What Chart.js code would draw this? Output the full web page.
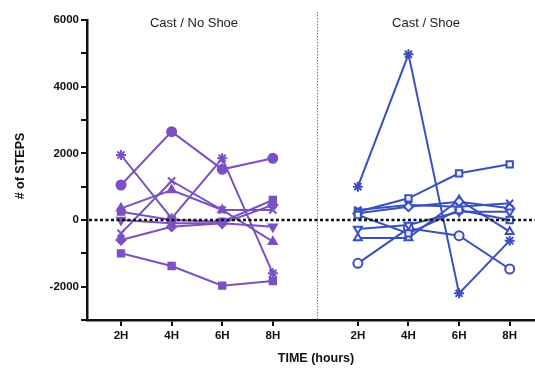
<!DOCTYPE html>
<html>
<head>
<meta charset="utf-8">
<script src="https://cdn.jsdelivr.net/npm/chart.js@4/dist/chart.umd.min.js"></script>
<style>
html,body{margin:0;padding:0;background:#fff;overflow:hidden;}
#wrap{width:535px;height:368px;position:relative;}
canvas{display:block;}
</style>
</head>
<body>
<div id="wrap"><canvas id="c" width="535" height="368"></canvas></div>
<script>
// ---- data ----
const categories = ['2H', '4H', '6H', '8H'];
const groupTitles = ['Cast / No Shoe', 'Cast / Shoe'];
const yTickLabels = [6000, 4000, 2000, 0, -2000];

// Cast / No Shoe (purple, filled markers)
const noShoeCircle   = [1050, 2650, 1520, 1850];
const noShoeSquare   = [-1000, -1380, -1970, -1830];
const noShoeStar     = [1950, 50, 1850, -1600];
const noShoeCross    = [-400, 1170, 300, 300];
const noShoeTriUp    = [350, 900, 300, -650];
const noShoeTriDown  = [0, -100, -100, -200];
const noShoeDiamond  = [-600, -200, -100, 450];
const noShoeOther    = [250, 0, -50, 600];

// Cast / Shoe (blue, open markers)
const shoeStar     = [1000, 4970, -2200, -620];
const shoeSquare   = [250, 650, 1400, 1670];
const shoeCircle   = [-1300, -250, -470, -1470];
const shoeTriUp    = [-540, -540, 600, -350];
const shoeCross    = [300, 450, 400, 500];
const shoeDiamond  = [200, 400, 550, 350];
const shoeTriDown  = [-270, -150, 250, 250];
const shoeSquare2  = [150, -400, 300, 0];

// ---- layout helpers ----
const leftPos = [0, 1, 2, 3];
const rightPos = [4.68, 5.68, 6.68, 7.68];
const dividerPos = 3.87;
const PURPLE = '#7b50c2';
const BLUE = '#3b50c0';

function mk(vals, pos, color, style, filled, rot) {
  return {
    data: vals.map((v, i) => ({x: pos[i], y: v})),
    showLine: true,
    borderColor: color,
    borderWidth: 2,
    pointStyle: style,
    pointRotation: rot || 0,
    pointRadius: style === 'star' || style === 'crossRot' ? 5 : 4.5,
    pointBorderWidth: 2,
    pointBorderColor: color,
    pointBackgroundColor: filled ? color : 'rgba(255,255,255,0.9)',
    tension: 0
  };
}

const datasets = [
  mk(noShoeOther, leftPos, PURPLE, 'rect', true),
  mk(noShoeTriDown, leftPos, PURPLE, 'triangle', true, 180),
  mk(noShoeDiamond, leftPos, PURPLE, 'rectRot', true),
  mk(noShoeTriUp, leftPos, PURPLE, 'triangle', true),
  mk(noShoeCross, leftPos, PURPLE, 'crossRot', true),
  mk(noShoeStar, leftPos, PURPLE, 'star', true),
  mk(noShoeSquare, leftPos, PURPLE, 'rect', true),
  mk(noShoeCircle, leftPos, PURPLE, 'circle', true),
  mk(shoeSquare2, rightPos, BLUE, 'rect', false),
  mk(shoeTriDown, rightPos, BLUE, 'triangle', false, 180),
  mk(shoeDiamond, rightPos, BLUE, 'rectRot', false),
  mk(shoeCross, rightPos, BLUE, 'crossRot', false),
  mk(shoeTriUp, rightPos, BLUE, 'triangle', false),
  mk(shoeCircle, rightPos, BLUE, 'circle', false),
  mk(shoeSquare, rightPos, BLUE, 'rect', false),
  mk(shoeStar, rightPos, BLUE, 'star', false)
];

const tickPositions = leftPos.concat(rightPos);

const decor = {
  id: 'decor',
  afterLayout(chart) {
    // let the x axis run to the right edge of the canvas, as in the reference
    const x = chart.scales.x;
    const R = chart.width;
    x.right = R;
    x.width = R - x.left;
    chart.chartArea.right = R;
    chart.chartArea.width = R - chart.chartArea.left;
    x.configure();
  },
  beforeDatasetsDraw(chart) {
    const {ctx, scales: {x, y}, chartArea} = chart;
    ctx.save();
    const dx = Math.round(x.getPixelForValue(dividerPos)) + 0.5;
    ctx.strokeStyle = '#777';
    ctx.lineWidth = 1;
    ctx.setLineDash([1.5, 1.5]);
    ctx.beginPath();
    ctx.moveTo(dx, 12);
    ctx.lineTo(dx, chartArea.bottom);
    ctx.stroke();
    ctx.restore();
  },
  afterDatasetsDraw(chart) {
    const {ctx, scales: {x, y}, chartArea} = chart;
    ctx.save();
    const zy = y.getPixelForValue(0);
    ctx.strokeStyle = '#111';
    ctx.lineWidth = 2.5;
    ctx.setLineDash([3, 2.5]);
    ctx.beginPath();
    ctx.moveTo(chartArea.left + 2, zy);
    ctx.lineTo(chartArea.right, zy);
    ctx.stroke();
    ctx.setLineDash([]);
    ctx.fillStyle = '#222';
    ctx.font = '13px "Liberation Sans", Arial, sans-serif';
    ctx.textAlign = 'center';
    ctx.textBaseline = 'middle';
    ctx.fillText(groupTitles[0], 194, 23);
    ctx.fillText(groupTitles[1], 426, 23);
    ctx.fillStyle = '#111';
    ctx.font = 'bold 12.5px "Liberation Sans", Arial, sans-serif';
    ctx.fillText('TIME (hours)', 316, 359);
    ctx.translate(21, 166);
    ctx.rotate(-Math.PI / 2);
    ctx.fillText('# of STEPS', 0, 0);
    ctx.restore();
  }
};

new Chart(document.getElementById('c'), {
  type: 'scatter',
  data: {datasets},
  plugins: [decor],
  options: {
    responsive: false,
    animation: false,
    layout: {padding: {left: 0, right: 0, top: 20, bottom: 0}},
    plugins: {legend: {display: false}, tooltip: {enabled: false}},
    scales: {
      x: {
        type: 'linear',
        min: -0.672,
        max: 8.18,
        afterBuildTicks(scale) {
          scale.ticks = tickPositions.map(v => ({value: v}));
        },
        afterFit(scale) {
          scale.height = 48;
        },
        ticks: {
          autoSkip: false,
          maxRotation: 0,
          padding: 3,
          color: '#111',
          font: {family: '"Liberation Sans", Arial, sans-serif', size: 11.5, weight: 'bold'},
          callback(v) {
            let i = leftPos.indexOf(v);
            if (i < 0) i = rightPos.indexOf(v);
            return i >= 0 ? categories[i] : '';
          }
        },
        grid: {drawOnChartArea: false, drawTicks: true, tickLength: 6, color: '#111', lineWidth: 2},
        border: {color: '#111', width: 2.5}
      },
      y: {
        min: -3000,
        max: 6000,
        afterFit(scale) {
          scale.width = 87;
        },
        afterBuildTicks(scale) {
          const t = [];
          for (let v = 6000; v >= -3000; v -= 1000) t.push({value: v});
          scale.ticks = t;
        },
        ticks: {
          padding: 2,
          color: '#111',
          font: {family: '"Liberation Sans", Arial, sans-serif', size: 11.5, weight: 'bold'},
          callback(v) { return yTickLabels.includes(v) ? String(v) : ''; }
        },
        grid: {drawOnChartArea: false, drawTicks: true, tickLength: 6, color: '#111', lineWidth: 2},
        border: {color: '#111', width: 2.5}
      }
    }
  }
});
</script>
</body>
</html>
